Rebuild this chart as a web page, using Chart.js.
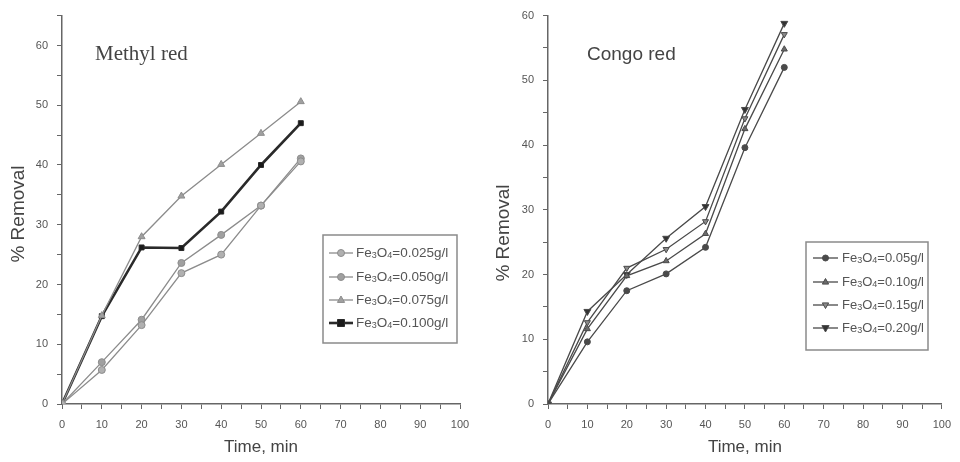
<!DOCTYPE html>
<html>
<head>
<meta charset="utf-8">
<script src="https://cdn.jsdelivr.net/npm/chart.js@4/dist/chart.umd.min.js"></script>
<style>
  html, body { margin: 0; padding: 0; background: #fff; }
  .panel { position: absolute; top: 0; width: 480px; height: 462px; }
  #left { left: 0; }
  #right { left: 480px; }
</style>
</head>
<body>
<div class="panel" id="left"><canvas id="methyl" width="480" height="462"></canvas></div>
<div class="panel" id="right"><canvas id="congo" width="480" height="462"></canvas></div>
<script>
// time points (min)
const times = [0, 10, 20, 30, 40, 50, 60];

// Methyl red, % removal per Fe3O4 dose
const mrDoses = ["0.025", "0.050", "0.075", "0.100"];
const mr025 = [0, 5.7, 13.2, 21.9, 25.0, 33.2, 40.6];
const mr050 = [0, 7.0, 14.1, 23.6, 28.3, 33.2, 41.1];
const mr075 = [0, 14.8, 28.0, 34.8, 40.1, 45.3, 50.6];
const mr100 = [0, 14.7, 26.2, 26.1, 32.2, 40.0, 47.0];

// Congo red, % removal per Fe3O4 dose
const crDoses = ["0.05", "0.10", "0.15", "0.20"];
const cr05 = [0, 9.6, 17.5, 20.1, 24.2, 39.6, 52.0];
const cr10 = [0, 11.6, 19.8, 22.1, 26.3, 42.5, 54.8];
const cr15 = [0, 12.6, 21.0, 23.9, 28.2, 44.1, 57.1];
const cr20 = [0, 14.3, 20.0, 25.6, 30.5, 45.5, 58.8];

const toXY = (vals) => vals.map((v, i) => ({ x: times[i], y: v }));

function drawMarker(ctx, style, r, rot, x, y, fill, stroke, bw) {
    ctx.save();
    ctx.translate(x, y);
    ctx.rotate(rot * Math.PI / 180);
    ctx.beginPath();
    if (style === "circle") {
        ctx.arc(0, 0, r, 0, Math.PI * 2);
    } else if (style === "rect") {
        ctx.rect(-r, -r, r * 2, r * 2);
    } else {
        ctx.moveTo(0, -r);
        ctx.lineTo(r * 0.9, r * 0.6);
        ctx.lineTo(-r * 0.9, r * 0.6);
        ctx.closePath();
    }
    ctx.fillStyle = fill;
    ctx.fill();
    ctx.lineWidth = bw;
    ctx.strokeStyle = stroke;
    ctx.stroke();
    ctx.restore();
}

// panel name, y title and the boxed legend
const panelDecor = {
    id: "panelDecor",
    afterDraw(chart, args, o) {
        const ctx = chart.ctx;
        ctx.save();
        ctx.fillStyle = "#444";
        ctx.textBaseline = "alphabetic";
        ctx.font = o.nameFont;
        ctx.fillText(o.name, o.nameX, o.nameY);

        ctx.save();
        ctx.translate(o.yTitleX, o.yTitleY);
        ctx.rotate(-Math.PI / 2);
        ctx.font = "19px 'Liberation Sans', Arial, sans-serif";
        ctx.textAlign = "center";
        ctx.textBaseline = "middle";
        ctx.fillText("% Removal", 0, 0);
        ctx.restore();

        const lg = o.legend;
        ctx.lineWidth = 1.5;
        ctx.strokeStyle = "#8a8a8a";
        ctx.strokeRect(lg.x, lg.y, lg.w, lg.h);
        chart.data.datasets.forEach((ds, i) => {
            const y = lg.rowY[i];
            ctx.beginPath();
            ctx.moveTo(lg.lineX0, y);
            ctx.lineTo(lg.lineX1, y);
            ctx.lineWidth = ds.borderWidth;
            ctx.strokeStyle = ds.borderColor;
            ctx.stroke();
            drawMarker(ctx, ds.pointStyle, ds.pointRadius, ds.pointRotation || 0,
                (lg.lineX0 + lg.lineX1) / 2, y,
                ds.pointBackgroundColor, ds.pointBorderColor, 1);
            let x = lg.textX;
            ctx.fillStyle = "#555";
            ctx.textAlign = "left";
            ctx.textBaseline = "middle";
            const parts = [["Fe", 0], ["3", 1], ["O", 0], ["4", 1], ["=" + ds.dose + "g/l", 0]];
            parts.forEach(([t, sub]) => {
                const size = sub ? Math.round(lg.font * 0.7) : lg.font;
                ctx.font = size + "px 'Liberation Sans', Arial, sans-serif";
                ctx.fillText(t, x, sub ? y + 3 : y);
                x += ctx.measureText(t).width;
            });
        });
        ctx.restore();
    },
};

function makeChart(id, datasets, yMax, axisW, padRight, padTop, decor) {
    const axisColor = "#666";
    const tickFont = { family: "'Liberation Sans', Arial, sans-serif", size: 11 };
    return new Chart(document.getElementById(id), {
        type: "line",
        data: { datasets: datasets },
        options: {
            responsive: false,
            animation: false,
            layout: { padding: { left: 0, right: padRight, top: padTop, bottom: 0 } },
            plugins: { legend: { display: false }, tooltip: { enabled: false }, panelDecor: decor },
            scales: {
                x: {
                    type: "linear",
                    min: 0,
                    max: 100,
                    afterFit: (s) => { s.height = 58; },
                    border: { color: axisColor, width: 1.5 },
                    grid: { drawOnChartArea: false, tickLength: 5, color: axisColor },
                    ticks: {
                        stepSize: 5,
                        padding: 9,
                        color: "#555",
                        font: tickFont,
                        maxRotation: 0,
                        autoSkip: false,
                        callback: (v) => (v % 10 === 0 ? v : ""),
                    },
                    title: {
                        display: true,
                        text: "Time, min",
                        color: "#444",
                        font: { family: "'Liberation Sans', Arial, sans-serif", size: 17 },
                        padding: { top: 0, bottom: 4 },
                    },
                },
                y: {
                    min: 0,
                    max: yMax,
                    afterFit: (s) => { s.width = axisW; },
                    border: { color: axisColor, width: 1.5 },
                    grid: { drawOnChartArea: false, tickLength: 5, color: axisColor },
                    ticks: {
                        stepSize: 5,
                        padding: 9,
                        color: "#555",
                        font: tickFont,
                        autoSkip: false,
                        callback: (v) => (v % 10 === 0 ? v : ""),
                    },
                },
            },
        },
        plugins: [panelDecor],
    });
}

function series(label, dose, vals, color, width, style, radius, fill, rot) {
    return {
        label: label,
        dose: dose,
        data: toXY(vals),
        borderColor: color,
        borderWidth: width,
        pointStyle: style,
        pointRadius: radius,
        pointRotation: rot || 0,
        pointBackgroundColor: fill,
        pointBorderColor: color,
        pointBorderWidth: 1,
        tension: 0,
    };
}

const mrGray = "#8c8c8c";
const mrSets = [
    series("Fe3O4=" + mrDoses[0] + "g/l", mrDoses[0], mr025, mrGray, 1.3, "circle", 3.5, "#b0b0b0"),
    series("Fe3O4=" + mrDoses[1] + "g/l", mrDoses[1], mr050, mrGray, 1.3, "circle", 3.5, "#a0a0a0"),
    series("Fe3O4=" + mrDoses[2] + "g/l", mrDoses[2], mr075, mrGray, 1.3, "triangle", 4, "#a0a0a0"),
    series("Fe3O4=" + mrDoses[3] + "g/l", mrDoses[3], mr100, "#2a2a2a", 2.6, "rect", 3.5, "#1a1a1a"),
];

const crDark = "#4a4a4a";
const crSets = [
    series("Fe3O4=" + crDoses[0] + "g/l", crDoses[0], cr05, crDark, 1.3, "circle", 3, "#4a4a4a"),
    series("Fe3O4=" + crDoses[1] + "g/l", crDoses[1], cr10, crDark, 1.3, "triangle", 3.5, "#6a6a6a"),
    series("Fe3O4=" + crDoses[2] + "g/l", crDoses[2], cr15, crDark, 1.3, "triangle", 3.5, "#8a8a8a", 180),
    series("Fe3O4=" + crDoses[3] + "g/l", crDoses[3], cr20, crDark, 1.3, "triangle", 4, "#333", 180),
];

makeChart("methyl", mrSets, 65, 62, 20, 14, {
    name: "Methyl red",
    nameFont: "21px 'Liberation Serif', 'Times New Roman', serif",
    nameX: 95,
    nameY: 60,
    yTitleX: 19,
    yTitleY: 214,
    legend: { x: 323, y: 235, w: 134, h: 108, rowY: [253, 277, 300, 323], lineX0: 329, lineX1: 353, textX: 356, font: 13.5 },
});

makeChart("congo", crSets, 60, 68, 15, 13, {
    name: "Congo red",
    nameFont: "19px 'Liberation Sans', Arial, sans-serif",
    nameX: 107,
    nameY: 60,
    yTitleX: 24,
    yTitleY: 233,
    legend: { x: 326, y: 242, w: 122, h: 108, rowY: [258, 282, 305, 328], lineX0: 333, lineX1: 358, textX: 362, font: 13 },
});
</script>
</body>
</html>
